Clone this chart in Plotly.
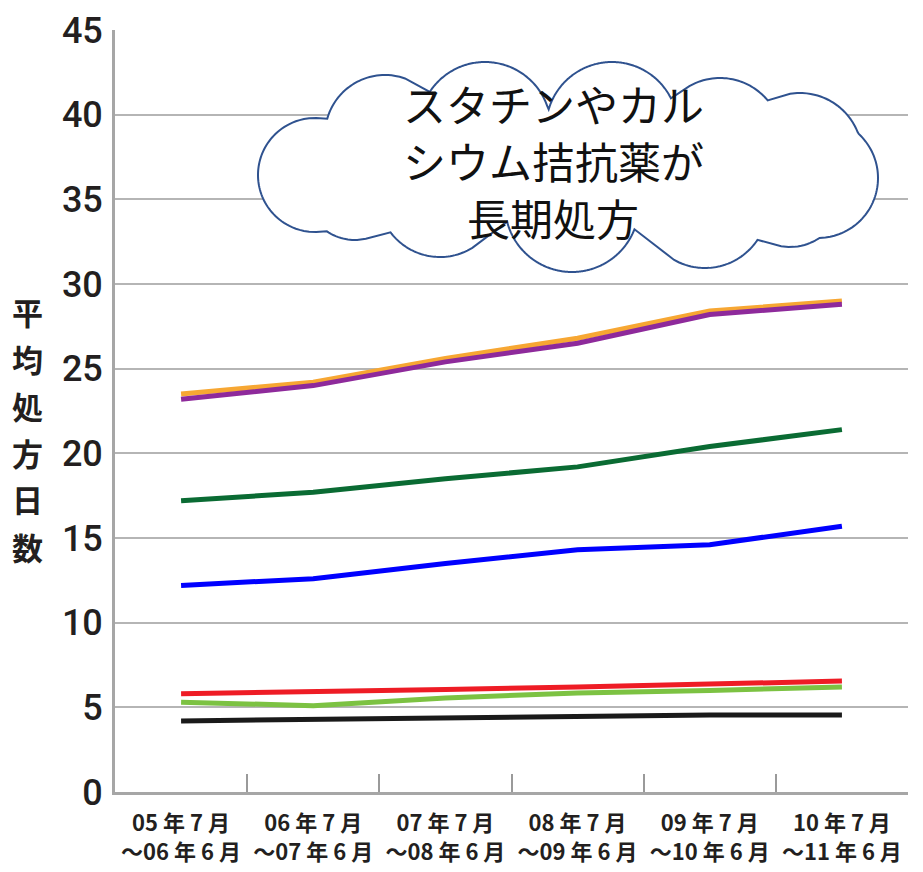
import math
import plotly.graph_objects as go

# ---- data ----
categories = ["05 年 7 月<br>～06 年 6 月", "06 年 7 月<br>～07 年 6 月", "07 年 7 月<br>～08 年 6 月",
              "08 年 7 月<br>～09 年 6 月", "09 年 7 月<br>～10 年 6 月", "10 年 7 月<br>～11 年 6 月"]
orange_vals = [23.5, 24.2, 25.6, 26.8, 28.4, 29.0]
purple_vals = [23.2, 24.0, 25.4, 26.5, 28.2, 28.8]
dgreen_vals = [17.2, 17.7, 18.5, 19.2, 20.4, 21.4]
blue_vals = [12.2, 12.6, 13.5, 14.3, 14.6, 15.7]
red_vals = [5.8, 5.9, 6.05, 6.2, 6.35, 6.55]
lgreen_vals = [5.3, 5.1, 5.55, 5.85, 6.0, 6.2]
black_vals = [4.2, 4.3, 4.4, 4.5, 4.55, 4.55]

y_ticks = [0, 5, 10, 15, 20, 25, 30, 35, 40, 45]
y_title = "平均処方日数"
cloud_lines = ["スタチンやカル", "シウム拮抗薬が", "長期処方"]

W, H = 923, 872
ML, MR, MT, MB = 115, 15, 30, 80
PW, PH = W - ML - MR, H - MT - MB

fig = go.Figure()
series = [
    (black_vals, "#1a1a1a"),
    (lgreen_vals, "#7cc242"),
    (red_vals, "#ee1c25"),
    (blue_vals, "#0000ff"),
    (dgreen_vals, "#0a6b33"),
    (orange_vals, "#f7a733"),
    (purple_vals, "#8e2a9b"),
]
for vals, col in series:
    fig.add_trace(go.Scatter(x=categories, y=vals, mode="lines",
                             line=dict(color=col, width=5), showlegend=False,
                             hoverinfo="skip"))

# ---- cloud shape (decoration) ----
def px2paper(px, py):
    return (px - ML) / PW, (H - MB - py) / PH

circles = [
    (315, 175, 57), (385, 135, 60), (485, 128, 66), (612, 128, 66),
    (720, 140, 62), (800, 155, 62), (818, 178, 60), (790, 195, 52),
    (705, 205, 63), (572, 205, 67), (440, 195, 62), (355, 190, 50),
]
c0x, c0y = 567, 175
pts = []
for k in range(900):
    th = 2 * math.pi * k / 900
    dx, dy = math.cos(th), math.sin(th)
    best = 0.0
    for cx, cy, r in circles:
        ox, oy = cx - c0x, cy - c0y
        b = dx * ox + dy * oy
        disc = r * r - (ox * ox + oy * oy) + b * b
        if disc >= 0:
            best = max(best, b + math.sqrt(disc))
    pts.append(px2paper(c0x + best * dx, c0y + best * dy))
path = "M " + " L ".join(f"{x:.5f},{y:.5f}" for x, y in pts) + " Z"
fig.add_shape(type="path", path=path, xref="paper", yref="paper",
              fillcolor="white", line=dict(color="#2f528f", width=2), layer="above")

for i, line_txt in enumerate(cloud_lines):
    tx, ty = px2paper(553, 103 + 57 * i)
    fig.add_annotation(x=tx, y=ty, xref="paper", yref="paper", text=line_txt,
                       showarrow=False, align="center", xanchor="center", yanchor="middle",
                       font=dict(family="Noto Sans CJK JP", size=43, color="#111111"))

for i, ch in enumerate(y_title):
    ax_, ay_ = px2paper(27, 311 + 47 * i)
    fig.add_annotation(x=ax_, y=ay_, xref="paper", yref="paper", text=ch,
                       showarrow=False, xanchor="center", yanchor="middle",
                       font=dict(family="Noto Sans CJK JP", size=31, color="#231f20", weight=700))

fig.update_layout(
    width=W, height=H,
    margin=dict(l=ML, r=MR, t=MT, b=MB, autoexpand=False),
    plot_bgcolor="white", paper_bgcolor="white",
    xaxis=dict(type="category", tickson="boundaries", ticks="inside", ticklen=18,
               tickwidth=2, tickcolor="#9a9a9a", showline=True, linecolor="#a6a6a6",
               linewidth=3, showgrid=False, zeroline=False, range=[-0.5, 5.5],
               ticklabelstandoff=10, automargin=False,
               tickfont=dict(family="Liberation Sans Narrow, Noto Sans CJK JP", size=22,
                             color="#231f20", weight=700)),
    yaxis=dict(range=[0, 45], tickvals=y_ticks, showgrid=True, gridcolor="#b5b5b5",
               gridwidth=2, showline=True, linecolor="#a6a6a6", linewidth=3,
               zeroline=False, ticks="", ticklabelstandoff=2, automargin=False,
               tickfont=dict(family="Roboto", size=36, color="#231f20", weight=500)),
)

fig.write_html("out.html")
